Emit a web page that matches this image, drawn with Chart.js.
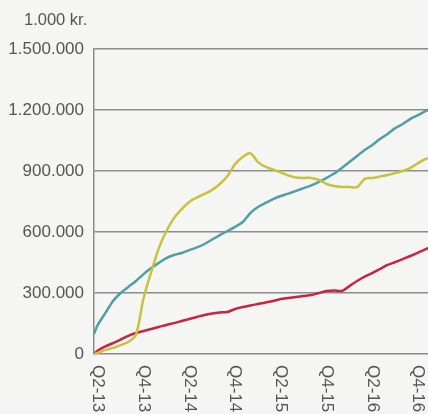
<!DOCTYPE html>
<html>
<head>
<meta charset="utf-8">
<script src="https://cdn.jsdelivr.net/npm/chart.js@4.4.1/dist/chart.umd.min.js"></script>
<style>
  html, body { margin: 0; padding: 0; background: #f5f5f3; overflow: hidden; }
  #wrap { position: relative; width: 428px; height: 414px; }
  #unit {
    position: absolute; left: 24px; top: 10px;
    font: 16.5px "Liberation Sans", Arial, sans-serif; color: #555;
  }
</style>
</head>
<body>
<div id="wrap">
  <div id="unit">1.000 kr.</div>
  <canvas id="chart" width="428" height="414"></canvas>
</div>
<script>
// maaneder efter Q2-13 (x-akse)
const months = [-0.5, 0, 1, 2, 3, 4, 5, 6, 7, 8, 9, 10, 11, 12, 13, 14, 15, 16, 17, 18, 19, 20, 21, 22,
  23, 24, 25, 26, 27, 28, 29, 30, 31, 32, 33, 34, 35, 36, 37, 38, 39, 40, 41, 42, 43, 44];

const quarterLabels = ["Q2-13", "Q4-13", "Q2-14", "Q4-14", "Q2-15", "Q4-15", "Q2-16", "Q4-16"];
const quarterMonths = [0, 6, 12, 18, 24, 30, 36, 42];

const redValues = [0, 17000, 37000, 54000, 71000, 89000, 103000, 113000, 123000, 133000, 143000, 152000,
  162000, 172000, 182000, 192000, 199000, 204000, 207000, 221000, 231000, 239000, 246000, 253000, 261000,
  270000, 275000, 280000, 285000, 290000, 300000, 310000, 312000, 310000, 334000, 359000, 381000, 398000,
  418000, 438000, 452000, 467000, 482000, 499000, 516000, 531000];

const tealValues = [100000, 143000, 202000, 261000, 300000, 330000, 359000, 393000, 423000, 448000, 472000,
  487000, 497000, 511000, 524000, 541000, 563000, 585000, 605000, 625000, 649000, 693000, 723000, 743000,
  762000, 777000, 789000, 802000, 816000, 829000, 846000, 866000, 888000, 915000, 944000, 974000, 1003000,
  1028000, 1057000, 1082000, 1111000, 1131000, 1156000, 1175000, 1195000, 1215000];

const yellowValues = [0, 5000, 20000, 30000, 44000, 59000, 93000, 275000, 403000, 521000, 605000, 669000,
  713000, 748000, 770000, 787000, 807000, 836000, 875000, 934000, 969000, 988000, 944000, 920000, 907000,
  893000, 878000, 868000, 866000, 866000, 856000, 836000, 826000, 821000, 821000, 821000, 861000, 866000,
  873000, 880000, 890000, 900000, 915000, 939000, 959000, 969000];

const yTicks = [0, 300000, 600000, 900000, 1200000, 1500000];

function fmt(v) {
  return String(v).replace(/\B(?=(\d{3})+(?!\d))/g, ".");
}

function toPoints(values) {
  return months.map((m, i) => ({ x: m, y: values[i] }));
}

// x-labels staar roteret med uret, saa vi tegner dem selv
const quarterLabelPlugin = {
  id: "quarterLabels",
  afterDraw(chart) {
    const ctx = chart.ctx;
    const xScale = chart.scales.x;
    ctx.save();
    ctx.font = '17px "Liberation Sans", Arial, sans-serif';
    ctx.fillStyle = "#555";
    ctx.textAlign = "left";
    ctx.textBaseline = "middle";
    quarterMonths.forEach((m, i) => {
      const px = xScale.getPixelForValue(m);
      ctx.save();
      ctx.translate(px, chart.chartArea.bottom + 11);
      ctx.rotate(Math.PI / 2);
      ctx.fillText(quarterLabels[i], 0, 0);
      ctx.restore();
    });
    ctx.restore();
  }
};

const lineStyle = { borderWidth: 2.5, pointRadius: 0, tension: 0.25, fill: false };

new Chart(document.getElementById("chart"), {
  type: "line",
  data: {
    datasets: [
      { ...lineStyle, data: toPoints(yellowValues), borderColor: "#c9c23c" },
      { ...lineStyle, data: toPoints(tealValues), borderColor: "#4e9fa6" },
      { ...lineStyle, data: toPoints(redValues), borderColor: "#c8233f" }
    ]
  },
  options: {
    responsive: false,
    animation: false,
    layout: { padding: { top: 49, right: 0, bottom: 0, left: 0 } },
    plugins: {
      legend: { display: false },
      tooltip: { enabled: false }
    },
    scales: {
      x: {
        type: "linear",
        min: -0.5,
        max: 43.3,
        grid: { display: false },
        border: { display: false },
        ticks: { display: false },
        afterFit(scale) { scale.height = 60; }
      },
      y: {
        min: 0,
        max: 1500000,
        afterBuildTicks(scale) { scale.ticks = yTicks.map(v => ({ value: v })); },
        afterFit(scale) { scale.width = 94; },
        grid: { color: "#8c8c8c", lineWidth: 1.5, drawTicks: false },
        border: { display: true, color: "#8c8c8c", width: 1.5 },
        ticks: {
          padding: 10,
          color: "#555",
          font: { family: '"Liberation Sans", Arial, sans-serif', size: 17 },
          callback: v => fmt(v)
        }
      }
    }
  },
  plugins: [quarterLabelPlugin]
});
</script>
</body>
</html>
